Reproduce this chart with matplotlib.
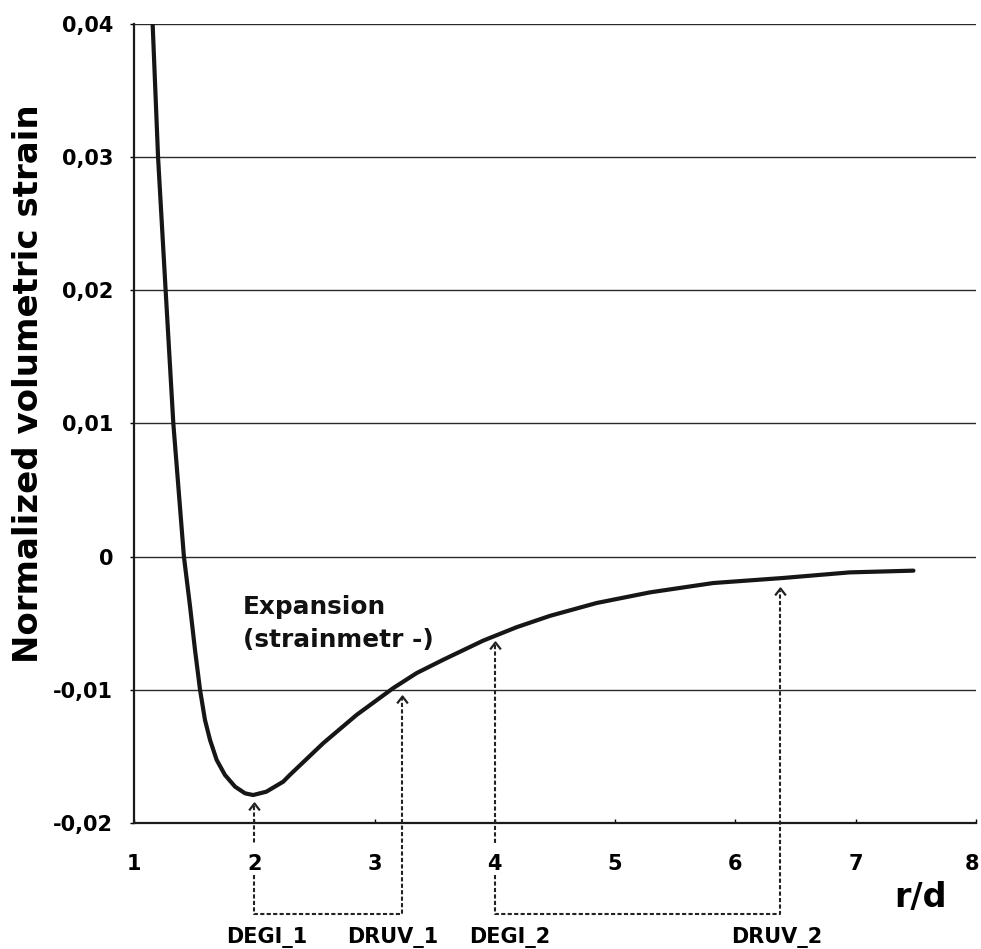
import matplotlib
matplotlib.use('Agg')
import matplotlib.pyplot as plt
from matplotlib.path import Path
from matplotlib.transforms import ScaledTranslation

# ---- data ----
r_d = [1.155, 1.20, 1.263, 1.327, 1.415, 1.466, 1.507, 1.549, 1.59, 1.632, 1.687,
       1.756, 1.84, 1.923, 1.99, 2.10, 2.24, 2.297, 2.574, 2.851, 3.155, 3.35,
       3.571, 3.904, 4.18, 4.46, 4.846, 5.29, 5.815, 6.397, 6.95, 7.48]
strain = [0.040, 0.030, 0.020, 0.010, 0.0, -0.00374, -0.00699, -0.0100, -0.01226,
          -0.01376, -0.01526, -0.01639, -0.01727, -0.01777, -0.0179, -0.01765,
          -0.01690, -0.01638, -0.0140, -0.01188, -0.00987, -0.00874, -0.00774,
          -0.00630, -0.00530, -0.00444, -0.00348, -0.00268, -0.00198, -0.0016,
          -0.00118, -0.00105]

y_ticks = [-0.02, -0.01, 0.0, 0.01, 0.02, 0.03, 0.04]
y_tick_labels = ['-0,02', '-0,01', '0', '0,01', '0,02', '0,03', '0,04']
x_ticks = [1, 2, 3, 4, 5, 6, 7, 8]
x_tick_labels = ['1', '2', '3', '4', '5', '6', '7', '8']

# marker pairs (start -> end) and their arrow tips on the curve
pair_names = [('DEGI_1', 'DRUV_1'), ('DEGI_2', 'DRUV_2')]
pair_x = [(2.0, 3.23), (4.005, 6.37)]
pair_tip = [(-0.0185, -0.01045), (-0.0064, -0.00235)]

plt.rcParams['font.family'] = ['DejaVu Sans']
plt.rcParams['font.weight'] = 'bold'

W, H = 981, 949
fig = plt.figure(figsize=(W / 100, H / 100), dpi=100)
ax = fig.add_axes([134 / W, (H - 823) / H, (976 - 134) / W, (823 - 24) / H])

ax.set_xlim(1, 8)
ax.set_ylim(-0.02, 0.04)

for y in y_ticks[1:]:
    ax.axhline(y, color='#2a2a2a', lw=1.0, zorder=1)

ax.plot(r_d, strain, color='#161616', lw=3.0, solid_capstyle='round',
        solid_joinstyle='round', zorder=5)

for s in ['top', 'right']:
    ax.spines[s].set_visible(False)
for s in ['left', 'bottom']:
    ax.spines[s].set_linewidth(1.6)
    ax.spines[s].set_color('#1a1a1a')

ax.set_yticks(y_ticks)
ax.set_yticklabels(y_tick_labels, fontsize=15, fontweight='bold')
ax.tick_params(axis='y', direction='out', length=3, width=1, pad=12)
ax.set_xticks(x_ticks)
ax.set_xticklabels(x_tick_labels, fontsize=15, fontweight='bold')
ax.tick_params(axis='x', direction='in', length=3, width=1, pad=22)
last = ax.get_xticklabels()[-1]
last.set_transform(last.get_transform() + ScaledTranslation(-4 / 100, 0, fig.dpi_scale_trans))

# axis labels
fig.text(28.5 / W, (H - 384) / H, 'Normalized volumetric strain', rotation=90,
         ha='center', va='center', fontsize=24.5, fontweight='bold')
ax.text(7.54, -0.02556, 'r/d', ha='center', va='center', fontsize=24,
        fontweight='bold', clip_on=False)

# annotation text
ax.text(1.905, -0.00429, 'Expansion', ha='left', va='baseline', fontsize=17.8,
        fontweight='bold', color='#111111')
ax.text(1.905, -0.00677, '(strainmetr -)', ha='left', va='baseline', fontsize=17.8,
        fontweight='bold', color='#111111')

# dashed connectors and arrows
chev = Path([(-1, -1.3), (0, 0), (1, -1.3)], [Path.MOVETO, Path.LINETO, Path.LINETO])
dash = dict(color='#222222', lw=1.5, linestyle=(0, (2, 1.1)), clip_on=False, zorder=4)
y_gap_top = -0.0215
y_gap_bot = -0.0239
y_bar = -0.0268
y_lab = -0.02857
for (n1, n2), (x1, x2), (t1, t2) in zip(pair_names, pair_x, pair_tip):
    ax.plot([x1, x1], [t1 - 0.0002, y_gap_top], **dash)
    ax.plot([x1, x1, x2, x2], [y_gap_bot, y_bar, y_bar, t2 - 0.0002], **dash)
    for xx, tt in ((x1, t1), (x2, t2)):
        ax.plot([xx], [tt], marker=chev, markersize=10, mfc='none', mec='#222222',
                mew=1.6, clip_on=False, zorder=6)

label_x = [(2.1, 3.15), (4.12, 6.34)]
for (n1, n2), (lx1, lx2) in zip(pair_names, label_x):
    ax.text(lx1, y_lab, n1, ha='center', va='center', fontsize=15, fontweight='bold',
            clip_on=False)
    ax.text(lx2, y_lab, n2, ha='center', va='center', fontsize=15, fontweight='bold',
            clip_on=False)

fig.savefig('out.png', dpi=100)
